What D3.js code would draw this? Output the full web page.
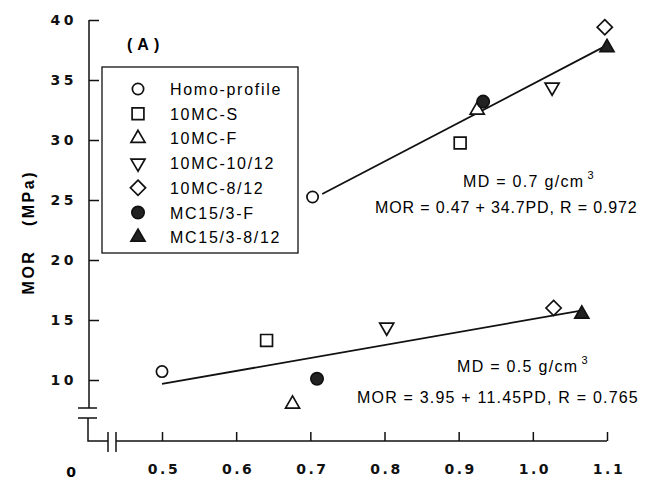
<!DOCTYPE html>
<html>
<head>
<meta charset="utf-8">
<script src="https://cdn.jsdelivr.net/npm/d3@7"></script>
<style>
  body { margin: 0; background: #fff; }
  svg { font-family: 'Liberation Sans', Arial, sans-serif; }
  .tick text { font-family: 'DejaVu Sans', sans-serif; font-weight: bold; font-size: 14px; letter-spacing: 2.5px; fill: #111; }
  .y .tick text { letter-spacing: 3.5px; }
  .tick line { stroke: #111; stroke-width: 1.5; }
</style>
</head>
<body>
<svg width="654" height="483"></svg>
<script>
// series names and symbols
var series = ['Homo-profile', '10MC-S', '10MC-F', '10MC-10/12', '10MC-8/12', 'MC15/3-F', 'MC15/3-8/12'];
var shapes = ['circle', 'square', 'triangle', 'triangleDown', 'diamond', 'circle', 'triangle'];
var filled = [false, false, false, false, false, true, true];

// MD = 0.7 g/cm3 group
var pd07 = [0.703, 0.902, 0.925, 1.026, 1.097, 0.933, 1.100];
var mor07 = [25.25, 29.75, 32.5, 34.4, 39.4, 33.2, 37.7];
// MD = 0.5 g/cm3 group
var pd05 = [0.500, 0.641, 0.676, 0.803, 1.028, 0.709, 1.066];
var mor05 = [10.7, 13.3, 8.0, 14.4, 16.0, 10.1, 15.5];

// fitted lines (end points)
var fit07pd = [0.716, 1.097], fit07mor = [25.5, 37.8];
var fit05pd = [0.500, 1.067], fit05mor = [9.67, 15.8];

var xTicks = [0.5, 0.6, 0.7, 0.8, 0.9, 1.0, 1.1];
var yTicks = [10, 15, 20, 25, 30, 35, 40];

var svg = d3.select('svg');

var x = d3.scaleLinear().domain([0.5, 1.1]).range([162, 607]);
var y = d3.scaleLinear().domain([10, 40]).range([380, 20]);

var axisX = 89, axisY = 441;

// y axis (ticks inside)
var gy = svg.append('g')
    .attr('class', 'y')
    .attr('transform', 'translate(' + axisX + ',0)')
    .call(d3.axisLeft(y).tickValues(yTicks).tickSizeInner(-10).tickSizeOuter(0).tickPadding(12));
gy.select('.domain').remove();

svg.append('line')
    .attr('x1', axisX).attr('x2', axisX)
    .attr('y1', y(40)).attr('y2', 408)
    .attr('stroke', '#111').attr('stroke-width', 1.5);

// axis break marks
var brk = svg.append('g').attr('stroke', '#111').attr('stroke-width', 1.5).attr('fill', 'none');
brk.append('line').attr('x1', 78).attr('x2', 97).attr('y1', 408).attr('y2', 408);
brk.append('line').attr('x1', 78).attr('x2', 97).attr('y1', 418).attr('y2', 418);
brk.append('path').attr('d', 'M' + (axisX - 1) + ',418 V' + axisY + ' H108');
brk.append('line').attr('x1', 108).attr('x2', 108).attr('y1', 432).attr('y2', 452);
brk.append('line').attr('x1', 116).attr('x2', 116).attr('y1', 432).attr('y2', 452);
brk.append('line').attr('x1', 116).attr('x2', x(1.1)).attr('y1', axisY).attr('y2', axisY);

// x axis (ticks inside)
var gx = svg.append('g')
    .attr('transform', 'translate(0,' + axisY + ')')
    .call(d3.axisBottom(x).tickValues(xTicks).tickFormat(d3.format('.1f'))
      .tickSizeInner(-9).tickSizeOuter(0).tickPadding(23));
gx.select('.domain').remove();
gx.selectAll('.tick text').attr('dx', 1.5);

// origin label
svg.append('text')
    .attr('x', 71).attr('y', 477)
    .attr('text-anchor', 'middle')
    .style('font-family', "'DejaVu Sans', sans-serif")
    .style('font-weight', 'bold').style('font-size', '14px')
    .text('0');

// y axis title
var yt = svg.append('g').attr('transform', 'translate(34,234) rotate(-90)')
    .style('font-weight', 'bold').style('font-size', '16px').style('letter-spacing', '2.5px');
yt.append('text').attr('x', -38).attr('text-anchor', 'middle').text('MOR');
yt.append('text').attr('x', 36).attr('text-anchor', 'middle').text('(MPa)');

// panel label
svg.append('text')
    .attr('x', 127).attr('y', 50)
    .style('font-weight', 'bold').style('font-size', '16px').style('letter-spacing', '5px')
    .text('(A)');

// symbol paths
function symbolPath(shape, size) {
  if (shape === 'circle') return d3.symbol(d3.symbolCircle, size)();
  if (shape === 'square') return d3.symbol(d3.symbolSquare, size)();
  if (shape === 'diamond') {
    var h = Math.sqrt(size) / Math.SQRT2;
    return 'M0,' + (-h) + 'L' + h + ',0L0,' + h + 'L' + (-h) + ',0Z';
  }
  return d3.symbol(d3.symbolTriangle, size)();
}
var sizes = { circle: 100, square: 140, triangle: 85, triangleDown: 85, diamond: 115 };

function drawMarker(g, i, px, py) {
  g.append('path')
    .attr('d', symbolPath(shapes[i], shapes[i] === 'circle' && filled[i] ? 120 : sizes[shapes[i]]))
    .attr('transform', 'translate(' + px + ',' + py + ')' + (shapes[i] === 'triangleDown' ? ' rotate(180)' : ''))
    .attr('fill', filled[i] ? '#222' : '#fff')
    .attr('stroke', '#111')
    .attr('stroke-width', 1.7);
}

// fit lines
var line = d3.line().x(function(d) { return x(d[0]); }).y(function(d) { return y(d[1]); });
svg.append('path').attr('d', line(d3.zip(fit07pd, fit07mor)))
    .attr('stroke', '#111').attr('stroke-width', 1.8).attr('fill', 'none');
svg.append('path').attr('d', line(d3.zip(fit05pd, fit05mor)))
    .attr('stroke', '#111').attr('stroke-width', 1.8).attr('fill', 'none');

// points
var pts = svg.append('g');
series.forEach(function(s, i) {
  drawMarker(pts, i, x(pd07[i]), y(mor07[i]));
  drawMarker(pts, i, x(pd05[i]), y(mor05[i]));
});

// legend
var lg = svg.append('g');
lg.append('rect')
    .attr('x', 102).attr('y', 67).attr('width', 196).attr('height', 186)
    .attr('fill', '#fff').attr('stroke', '#111').attr('stroke-width', 1.3);
series.forEach(function(s, i) {
  var ly = 89 + i * 24.7;
  drawMarker(lg, i, 138, ly);
  lg.append('text')
    .attr('x', 170).attr('y', ly + 6)
    .style('font-size', '16px').style('letter-spacing', '1.7px')
    .text(s);
});

// annotations
function annot(ax, ay, md) {
  var t = svg.append('text').attr('x', ax).attr('y', ay)
      .style('font-size', '16px').style('letter-spacing', '1.3px');
  t.append('tspan').text('MD = ' + md + ' g/cm');
  t.append('tspan').attr('dx', 3).attr('dy', -8).style('font-size', '11px').text('3');
}
annot(463, 187, '0.7');
annot(457, 372, '0.5');
svg.append('text').attr('x', 375).attr('y', 213).style('font-size', '16px').style('letter-spacing', '0.85px')
    .text('MOR = 0.47 + 34.7PD, R = 0.972');
svg.append('text').attr('x', 357).attr('y', 403).style('font-size', '16px').style('letter-spacing', '1.2px')
    .text('MOR = 3.95 + 11.45PD, R = 0.765');
</script>
</body>
</html>
